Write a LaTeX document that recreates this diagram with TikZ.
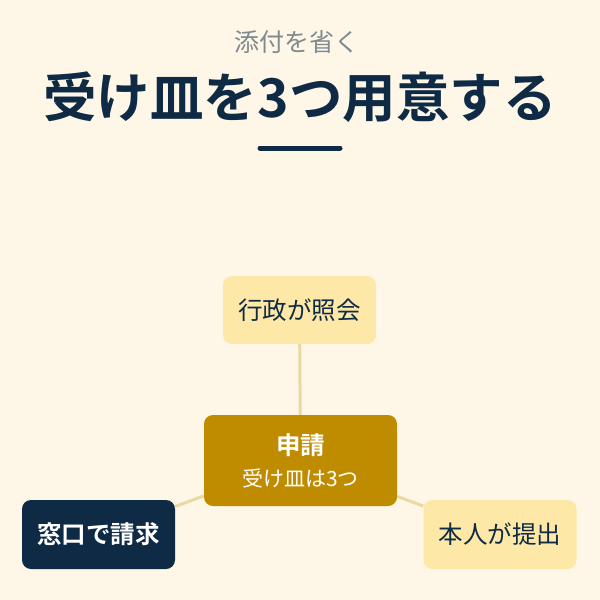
\documentclass[tikz,border=0pt]{standalone}
\usepackage{fontspec}
\usetikzlibrary{backgrounds}
\setmainfont{Noto Sans CJK JP}
\newfontfamily\jpbold{Noto Sans CJK JP Bold}
\definecolor{bgc}{HTML}{FEF7E7}
\definecolor{navy}{HTML}{0E2A44}
\definecolor{gold}{HTML}{BF8C00}
\definecolor{pale}{HTML}{FDE8A8}
\definecolor{linec}{HTML}{EAD9A2}
\definecolor{subg}{HTML}{7F8A8F}
\tikzset{
  box/.style={rounded corners=9pt, inner sep=0pt, anchor=center},
  leaf/.style={box, fill=pale, minimum width=153pt, minimum height=68pt, text=navy, font=\fontsize{24.5}{28}\selectfont},
  conn/.style={draw=linec, line width=3pt},
}
\begin{document}
\begin{tikzpicture}[x=1pt,y=-1pt]
\useasboundingbox (0,0) rectangle (600,600);
\node[text=subg, font=\fontsize{25}{28}\selectfont] (sub) at (297,42) {添付を省く};
\node[text=navy, font=\jpbold\fontsize{53.5}{64}\selectfont] (title) at (300,97) {受け皿を3つ用意する};
\draw[navy, line width=5pt, line cap=round] (260,148) coordinate (ul1) -- (340,148) coordinate (ul2);
\node[leaf] (top) at (299.5,310) {行政が照会};
\node[box, fill=gold, minimum width=193pt, minimum height=91pt, text=white, align=center] (c) at (300.5,460.5)
  {{\jpbold\fontsize{24.5}{28}\selectfont 申請}\\[11pt]{\fontsize{21}{25}\selectfont 受け皿は3つ}};
\node[box, fill=navy, minimum width=153pt, minimum height=69pt, text=white, font=\jpbold\fontsize{24.5}{28}\selectfont] (l) at (98.5,534.5) {窓口で請求};
\node[leaf, minimum height=69pt] (r) at (500,534.5) {本人が提出};
\begin{scope}[on background layer]
\fill[bgc] (0,0) rectangle (600,600);
\draw[conn] (top) -- (c);
\draw[conn] (c) -- (l);
\draw[conn] (c) -- (r);
\end{scope}
\end{tikzpicture}
\end{document}
